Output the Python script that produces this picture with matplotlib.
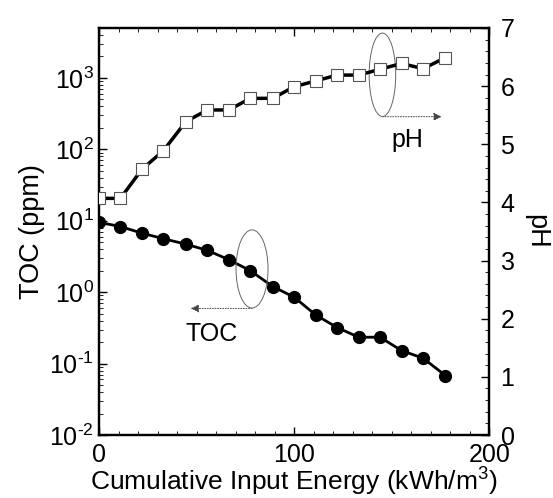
import matplotlib
matplotlib.use('Agg')
import matplotlib.pyplot as plt
from matplotlib.patches import Ellipse
from matplotlib.ticker import MultipleLocator, LogLocator, NullFormatter, FuncFormatter
import numpy as np

plt.rcParams['font.family'] = ['Liberation Sans', 'DejaVu Sans']
plt.rcParams['mathtext.fontset'] = 'custom'
plt.rcParams['mathtext.rm'] = 'Liberation Sans'
plt.rcParams['mathtext.it'] = 'Liberation Sans'

# cumulative input energy (kWh/m3)
energy = [0, 11, 22, 33, 44.5, 55.5, 66.5, 77.5, 89, 100, 111, 122, 133, 144, 155, 166, 177.5]
# TOC (ppm), log axis
toc = [9.5, 8.3, 6.7, 5.6, 4.7, 3.85, 2.85, 2.0, 1.2, 0.85, 0.48, 0.32, 0.234, 0.234, 0.152, 0.119, 0.068]
# pH, right axis
ph = [4.07, 4.07, 4.57, 4.89, 5.39, 5.59, 5.59, 5.79, 5.79, 5.99, 6.09, 6.19, 6.19, 6.29, 6.39, 6.30, 6.49]

fig = plt.figure(figsize=(5.53, 4.98), dpi=100)
ax = fig.add_axes([0.179, 0.1265, 0.706, 0.8173])
ax2 = ax.twinx()

ax.plot(energy, toc, '-o', color='black', lw=2, ms=8.5, mfc='black', mec='black', zorder=3)
ax2.plot(energy, ph, '-s', color='black', lw=2.5, ms=8.5, mfc='white', mec='#555555', mew=0.8, zorder=3)

ax.set_yscale('log')
ax.set_xlim(0, 200)
ax.set_ylim(1e-2, 5e3)
ax2.set_ylim(0, 7)

def decade(v, pos):
    e = int(round(np.log10(v)))
    return r'$10^{\text{%d}}$' % e

ax.xaxis.set_major_locator(MultipleLocator(100))
ax.xaxis.set_minor_locator(MultipleLocator(10))
ax.yaxis.set_major_locator(LogLocator(base=10, numticks=10))
ax.yaxis.set_major_formatter(FuncFormatter(decade))
ax.yaxis.set_minor_locator(LogLocator(base=10, subs=range(2, 10), numticks=10))
ax.yaxis.set_minor_formatter(NullFormatter())
ax2.yaxis.set_major_locator(MultipleLocator(1))
ax2.yaxis.set_minor_locator(MultipleLocator(0.2))

ax.tick_params(which='both', direction='in', top=True, labelsize=18)
ax.tick_params(axis='x', pad=6)
ax.tick_params(which='major', length=6, width=1)
ax.tick_params(which='minor', length=3, width=0.6)
ax2.tick_params(which='both', direction='in', labelsize=18, pad=8)
ax2.tick_params(which='major', length=6, width=1)
ax2.tick_params(which='minor', length=3, width=0.6)

for a in (ax, ax2):
    for s in a.spines.values():
        s.set_linewidth(1.6)

ax.set_xlabel('Cumulative Input Energy (kWh/m$^3$)', fontsize=19, va='baseline')
ax.xaxis.set_label_coords(0.5, -0.136)
ax.set_ylabel('TOC (ppm)', fontsize=19.5, labelpad=3)
ax2.set_ylabel('pH', fontsize=19.5, rotation=270, va='bottom', labelpad=6)

# annotation ellipses and arrows
ax.add_patch(Ellipse((0.726, 0.885), 0.068, 0.205, transform=ax.transAxes,
                     fill=False, ec='#666666', lw=0.7, zorder=4))
ax.annotate('', xy=(0.878, 0.782), xytext=(0.726, 0.782), xycoords='axes fraction',
            arrowprops=dict(arrowstyle='-|>', color='#444444', lw=0.7, ls=':',
                            mutation_scale=12, shrinkA=0, shrinkB=0))
ax.text(0.791, 0.725, 'pH', transform=ax.transAxes, fontsize=18, ha='center', va='center')

ax.add_patch(Ellipse((0.392, 0.408), 0.082, 0.192, transform=ax.transAxes,
                     fill=False, ec='#666666', lw=0.7, zorder=4))
ax.annotate('', xy=(0.235, 0.311), xytext=(0.392, 0.311), xycoords='axes fraction',
            arrowprops=dict(arrowstyle='-|>', color='#444444', lw=0.7, ls=':',
                            mutation_scale=12, shrinkA=0, shrinkB=0))
ax.text(0.289, 0.249, 'TOC', transform=ax.transAxes, fontsize=18, ha='center', va='center')

fig.savefig('out.png', dpi=100)
